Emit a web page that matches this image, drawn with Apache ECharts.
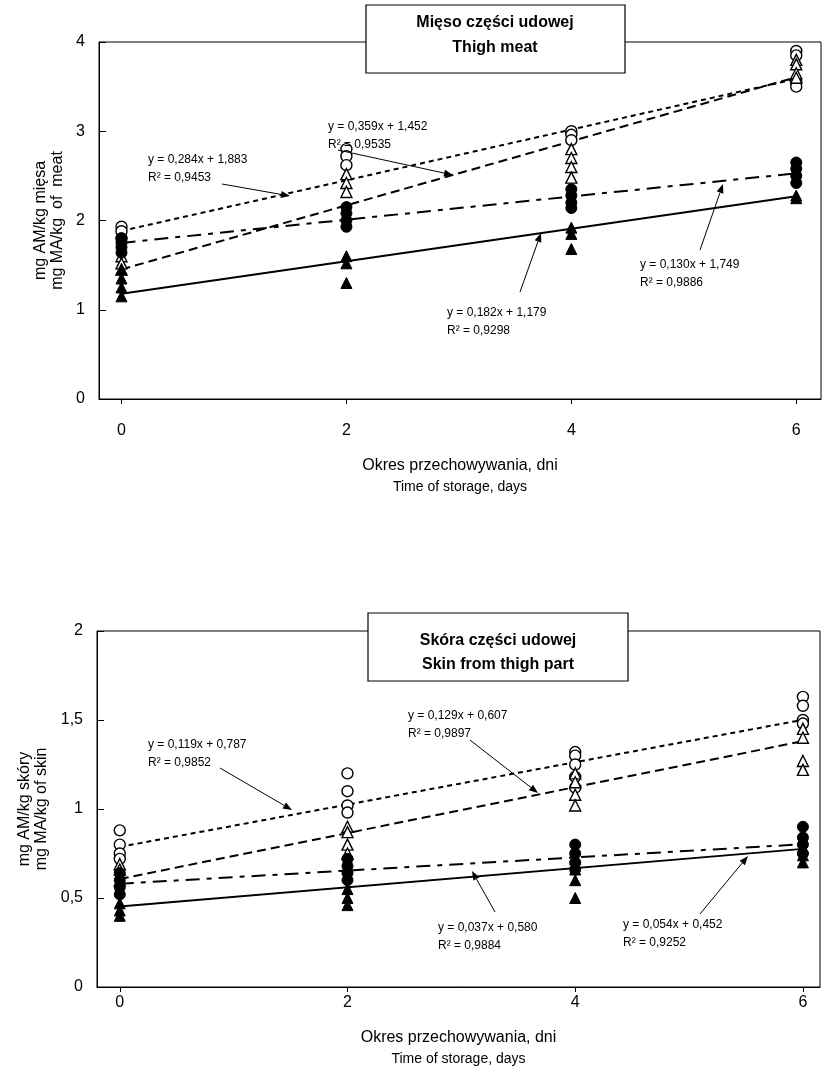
<!DOCTYPE html>
<html><head><meta charset="utf-8">
<script src="https://cdn.jsdelivr.net/npm/echarts@6/dist/echarts.min.js"></script>
<style>html,body{margin:0;padding:0;background:#fff}#c{width:822px;height:1081px}</style>
</head><body><div id="c"></div>
<script>
// ---- data ----
const days = [0, 2, 4, 6];
const xTicks = [0, 2, 4, 6];
// Thigh meat (mg MA/kg of meat): replicate readings per day
const meatOpenCircle   = [[1.93,1.88,1.80],[2.80,2.72,2.62],[3.00,2.96,2.90],[3.90,3.85,3.55,3.50]];
const meatOpenTriangle = [[1.60,1.52,1.45],[2.52,2.42,2.32],[2.80,2.70,2.60,2.48],[3.80,3.75,3.65,3.60]];
const meatFullCircle   = [[1.80,1.75,1.70,1.64],[2.15,2.08,2.00,1.93],[2.35,2.28,2.20,2.14],[2.65,2.58,2.50,2.42]];
const meatFullTriangle = [[1.45,1.35,1.25,1.15],[1.60,1.52,1.30],[1.92,1.85,1.68],[2.28,2.25]];
// fitted lines: value at day 0 and at day 6
const meatFitStart = [1.883, 1.452, 1.749, 1.179];
const meatFitEnd   = [3.587, 3.606, 2.529, 2.271];
const meatEq = ['y = 0,284x + 1,883','y = 0,359x + 1,452','y = 0,130x + 1,749','y = 0,182x + 1,179'];
const meatR2 = ['R² = 0,9453','R² = 0,9535','R² = 0,9886','R² = 0,9298'];

// Skin from thigh part (mg MA/kg of skin)
const skinOpenCircle   = [[0.88,0.80,0.75,0.72],[1.20,1.10,1.02,0.98],[1.32,1.30,1.25,1.18,1.12],[1.63,1.58,1.50,1.48]];
const skinOpenTriangle = [[0.69,0.66,0.60],[0.90,0.87,0.80,0.75],[1.20,1.15,1.08,1.02],[1.45,1.40,1.27,1.22]];
const skinFullCircle   = [[0.64,0.60,0.56,0.52],[0.72,0.68,0.64,0.60],[0.80,0.75,0.70,0.66],[0.90,0.84,0.80,0.75]];
const skinFullTriangle = [[0.47,0.43,0.40],[0.55,0.50,0.46],[0.72,0.66,0.60,0.50],[0.78,0.74,0.70]];
const skinFitStart = [0.787, 0.607, 0.580, 0.452];
const skinFitEnd   = [1.501, 1.381, 0.802, 0.776];
const skinEq = ['y = 0,119x + 0,787','y = 0,129x + 0,607','y = 0,037x + 0,580','y = 0,054x + 0,452'];
const skinR2 = ['R² = 0,9852','R² = 0,9897','R² = 0,9884','R² = 0,9252'];

// ---- build ----
const FONT = '"Liberation Sans", Arial, sans-serif';
function pts(arr){ const out=[]; arr.forEach((vals,i)=>vals.forEach(v=>out.push([days[i],v]))); return out; }
const dashStyles = [[5,4],[9,5],[14,7,5,7],'solid'];
const markerDefs = [
  {symbol:'circle', size:11, style:{color:'#fff', borderColor:'#000', borderWidth:1.4, opacity:1}},
  {symbol:'triangle', size:11, style:{color:'#fff', borderColor:'#000', borderWidth:1.4, opacity:1}},
  {symbol:'circle', size:11, style:{color:'#000', borderColor:'#000', borderWidth:1, opacity:1}},
  {symbol:'triangle', size:11, style:{color:'#000', borderColor:'#000', borderWidth:1, opacity:1}}
];
function seriesFor(idx, groups, fs, fe){
  const s=[];
  fs.forEach((v,i)=>{
    s.push({type:'line', xAxisIndex:idx, yAxisIndex:idx, data:[[days[0],v],[days[days.length-1],fe[i]]],
      symbol:'none', silent:true, z:2, lineStyle:{color:'#000', width:2, type:dashStyles[i]}});
  });
  groups.forEach((g,i)=>{
    s.push({type:'scatter', xAxisIndex:idx, yAxisIndex:idx, data:pts(g), symbol:markerDefs[i].symbol,
      symbolSize:markerDefs[i].size, itemStyle:markerDefs[i].style, z:3+i});
  });
  return s;
}
function yName(a,b){ return '{a|'+a+'}\n{a|'+b+'}'; }
function xAxisDef(idx, min, max, margin, gap){
  return {type:'value', gridIndex:idx, min:min, max:max,
    axisLine:{onZero:false, lineStyle:{color:'#000', width:1}},
    axisTick:{customValues:xTicks, inside:false, length:5, lineStyle:{color:'#000'}},
    axisLabel:{customValues:xTicks, color:'#000', fontFamily:FONT, fontSize:16, margin:margin},
    splitLine:{show:false},
    name:'{a|Okres przechowywania, dni}\n{b|Time of storage, days}', nameLocation:'middle', nameGap:gap,
    nameTextStyle:{rich:{a:{fontFamily:FONT, fontSize:16, color:'#000', lineHeight:22},
                          b:{fontFamily:FONT, fontSize:14, color:'#000', lineHeight:20}}}};
}
function yAxisDef(idx, max, interval, name, gap){
  return {type:'value', gridIndex:idx, min:0, max:max, interval:interval,
    axisLine:{show:true, onZero:false, lineStyle:{color:'#000', width:1}},
    axisTick:{show:true, inside:true, length:7, lineStyle:{color:'#000'}},
    axisLabel:{color:'#000', fontFamily:FONT, fontSize:16, margin:14,
      formatter:v=>String(v).replace('.',',')},
    splitLine:{show:false},
    name:name, nameLocation:'middle', nameRotate:90, nameGap:gap,
    nameTextStyle:{rich:{a:{fontFamily:FONT, fontSize:16, color:'#000', lineHeight:17, align:'center'}}}};
}
function ctext(x,y,s){
  return {type:'text', z:21, style:{text:s, x:x, y:y, fill:'#000', font:'bold 16px '+FONT, textAlign:'center', textVerticalAlign:'middle'}};
}
function arrow(x1,y1,x2,y2){
  const a=Math.atan2(y2-y1,x2-x1), L=9, W=3.5;
  const bx=x2-L*Math.cos(a), by=y2-L*Math.sin(a);
  const px=-Math.sin(a)*W, py=Math.cos(a)*W;
  return [
    {type:'line', z:20, shape:{x1:x1,y1:y1,x2:bx,y2:by}, style:{stroke:'#000', lineWidth:1}},
    {type:'polygon', z:20, shape:{points:[[x2,y2],[bx+px,by+py],[bx-px,by-py]]}, style:{fill:'#000'}}
  ];
}
function annot(x,y,eq,r2,ax1,ay1,ax2,ay2){
  return [{type:'text', z:20, style:{text:eq, x:x, y:y, fill:'#000', font:'12px '+FONT, textVerticalAlign:'middle'}},
          {type:'text', z:20, style:{text:r2, x:x, y:y+18, fill:'#000', font:'12px '+FONT, textVerticalAlign:'middle'}}]
          .concat(arrow(ax1,ay1,ax2,ay2));
}
const graphics = []
 .concat(annot(148,160,meatEq[0],meatR2[0],222,184,290,196))
 .concat(annot(328,127,meatEq[1],meatR2[1],338,150,453,175))
 .concat(annot(640,265,meatEq[2],meatR2[2],700,250,723,184))
 .concat(annot(447,313,meatEq[3],meatR2[3],520,292,541,233))
 .concat(annot(148,745,skinEq[0],skinR2[0],220,768,292,810))
 .concat(annot(408,716,skinEq[1],skinR2[1],470,740,538,793))
 .concat(annot(438,928,skinEq[2],skinR2[2],495,912,472,871))
 .concat(annot(623,925,skinEq[3],skinR2[3],700,914,748,856))
 .concat([
   {type:'rect', z:19, shape:{x:366,y:5,width:259,height:68}, style:{fill:'#fff', stroke:'#000', lineWidth:1.2}},
   ctext(495,23,'Mięso części udowej'), ctext(495,48,'Thigh meat'),
   {type:'rect', z:19, shape:{x:368,y:613,width:260,height:68}, style:{fill:'#fff', stroke:'#000', lineWidth:1.2}},
   ctext(498,641,'Skóra części udowej'), ctext(498,665,'Skin from thigh part')
 ]);

const chart = echarts.init(document.getElementById('c'), null, {renderer:'canvas'});
chart.setOption({
  animation:false, backgroundColor:'#fff',
  grid:[{left:99, top:42, width:722, height:357, show:true, borderColor:'#000', borderWidth:1, backgroundColor:'transparent'},
        {left:97, top:631, width:723, height:356, show:true, borderColor:'#000', borderWidth:1, backgroundColor:'transparent'}],
  xAxis:[xAxisDef(0,-0.2,6.22,24,56), xAxisDef(1,-0.2,6.15,8,40)],
  yAxis:[yAxisDef(0,4,1,yName('mg AM/kg mięsa','mg MA/kg  of  meat'),32), yAxisDef(1,2,0.5,yName('mg AM/kg skóry','mg MA/kg of skin'),45)],
  series: seriesFor(0,[meatOpenCircle,meatOpenTriangle,meatFullCircle,meatFullTriangle],meatFitStart,meatFitEnd)
    .concat(seriesFor(1,[skinOpenCircle,skinOpenTriangle,skinFullCircle,skinFullTriangle],skinFitStart,skinFitEnd)),
  graphic: graphics
});
</script></body></html>
